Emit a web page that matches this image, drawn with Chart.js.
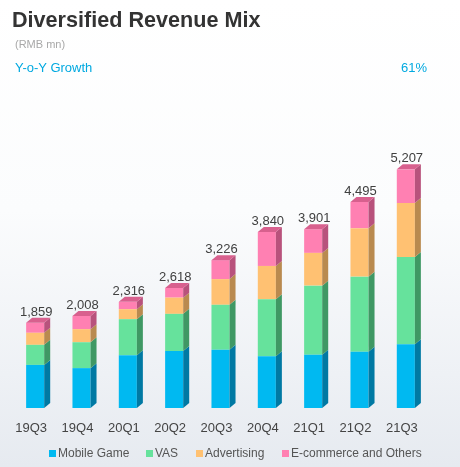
<!DOCTYPE html>
<html>
<head>
<meta charset="utf-8">
<script src="https://cdn.jsdelivr.net/npm/chart.js@4/dist/chart.umd.min.js"></script>
<style>
  html, body { margin: 0; padding: 0; }
  body {
    width: 460px; height: 467px; overflow: hidden; position: relative;
    background: linear-gradient(180deg, #ffffff 0%, #fbfcfd 45%, #eef1f5 80%, #e6eaf0 100%);
    font-family: "Liberation Sans", Arial, sans-serif;
  }
  #wrap { position: absolute; left: 0; top: 0; width: 460px; height: 467px; }
  .t { position: absolute; white-space: nowrap; }
  #title { left: 12px; top: 7px; font-size: 21.6px; font-weight: bold; color: #333333; }
  #unit { left: 15px; top: 38px; font-size: 11px; color: #a8a8a8; }
  #yoy { left: 15px; top: 60px; font-size: 13px; color: #00a9e0; }
  #yoyv { left: 401px; top: 60px; font-size: 13px; color: #00a9e0; }
  #legend { position: absolute; left: 0; top: 446px; width: 460px; height: 16px; font-size: 12px; color: #555; }
  .li { position: absolute; top: 0; display: flex; align-items: center; }
  .sw { width: 7px; height: 7px; margin-right: 2px; }
</style>
</head>
<body>
<div id="wrap"><canvas id="c"></canvas></div>
<div class="t" id="title">Diversified Revenue Mix</div>
<div class="t" id="unit">(RMB mn)</div>
<div class="t" id="yoy">Y-o-Y Growth</div>
<div class="t" id="yoyv">61%</div>
<div id="legend"></div>
<script>
const categories = ["19Q3","19Q4","20Q1","20Q2","20Q3","20Q4","21Q1","21Q2","21Q3"];
const mobileGame = [940, 870, 1152, 1243, 1271, 1128, 1163, 1229, 1390];
const vas        = [438, 565, 786, 811, 981, 1244, 1507, 1637, 1904];
const advertising= [263, 285, 218, 354, 560, 727, 714, 1055, 1178];
const ecommerce  = [218, 288, 160, 210, 414, 741, 517, 574, 735];
const totalLabels = ["1,859","2,008","2,316","2,618","3,226","3,840","3,901","4,495","5,207"];
const seriesNames = ["Mobile Game","VAS","Advertising","E-commerce and Others"];

const fronts = ["#00b9f1", "#66e29c", "#ffc172", "#ff80b2"];
const sides  = ["#0079a3", "#3f9864", "#b98a4f", "#b8527c"];
const tops   = ["#33c6f4", "#80e8ad", "#ffcf8f", "#d8608e"];

const DX = 6, DY = 5;

const bar3d = {
  id: 'bar3d',
  afterDatasetsDraw(chart) {
    const ctx = chart.ctx;
    ctx.save();
    const n = chart.data.datasets.length;
    for (let d = 0; d < n; d++) {
      const meta = chart.getDatasetMeta(d);
      meta.data.forEach((el) => {
        const p = el.getProps(['x','y','base','width'], true);
        const xr = p.x + p.width / 2;
        ctx.fillStyle = sides[d];
        ctx.beginPath();
        ctx.moveTo(xr, p.y);
        ctx.lineTo(xr + DX, p.y - DY);
        ctx.lineTo(xr + DX, p.base - DY);
        ctx.lineTo(xr, p.base);
        ctx.closePath();
        ctx.fill();
      });
    }
    const topMeta = chart.getDatasetMeta(n - 1);
    topMeta.data.forEach((el, i) => {
      const p = el.getProps(['x','y','base','width'], true);
      const xl = p.x - p.width / 2, xr = p.x + p.width / 2;
      ctx.fillStyle = tops[n - 1];
      ctx.beginPath();
      ctx.moveTo(xl, p.y);
      ctx.lineTo(xl + DX, p.y - DY);
      ctx.lineTo(xr + DX, p.y - DY);
      ctx.lineTo(xr, p.y);
      ctx.closePath();
      ctx.fill();
      ctx.fillStyle = "#404040";
      ctx.font = '13px "Liberation Sans", Arial, sans-serif';
      ctx.textAlign = 'center';
      ctx.textBaseline = 'alphabetic';
      ctx.fillText(totalLabels[i], p.x + DX / 2 - 2, p.y - DY - 2);
    });
    ctx.restore();
  }
};

const seriesData = [mobileGame, vas, advertising, ecommerce];
const datasets = seriesData.map((arr, i) => ({
  label: seriesNames[i],
  data: arr,
  backgroundColor: fronts[i],
  borderWidth: 0,
  barPercentage: 0.39,
  categoryPercentage: 1.0
}));

new Chart(document.getElementById('c'), {
  type: 'bar',
  data: { labels: categories, datasets },
  plugins: [bar3d],
  options: {
    responsive: true,
    maintainAspectRatio: false,
    animation: false,
    layout: { padding: { left: 12, right: 31, top: 133, bottom: 27 } },
    plugins: { legend: { display: false }, tooltip: { enabled: false } },
    scales: {
      x: {
        stacked: true,
        grid: { display: false, drawTicks: false },
        border: { display: false },
        ticks: {
          color: '#444',
          font: { size: 13, family: '"Liberation Sans", Arial, sans-serif' },
          padding: 13,
          labelOffset: -4
        },
        afterFit(s) { s.height = 32; }
      },
      y: {
        stacked: true,
        display: false,
        min: 0,
        max: 6000
      }
    }
  }
});

const lg = document.getElementById('legend');
const lx = [49, 146, 196, 282];
seriesNames.forEach((n, i) => {
  const d = document.createElement('div');
  d.className = 'li';
  d.style.left = lx[i] + 'px';
  d.innerHTML = '<span class="sw" style="background:' + fronts[i] + '"></span><span>' + n + '</span>';
  lg.appendChild(d);
});
</script>
</body>
</html>
